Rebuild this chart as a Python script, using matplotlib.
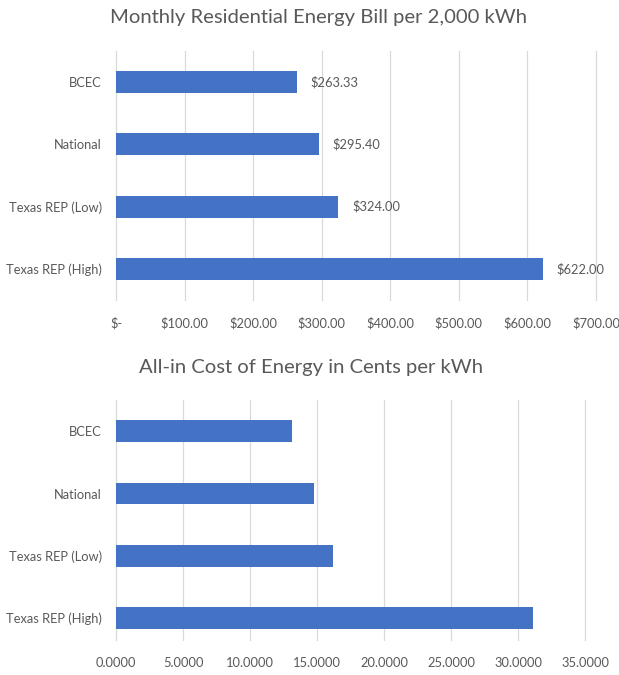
import matplotlib.pyplot as plt
import numpy as np
from matplotlib.ticker import FuncFormatter

categories = ["BCEC", "National", "Texas REP (Low)", "Texas REP (High)"]
monthly_bill = [263.33, 295.40, 324.00, 622.00]
cents_per_kwh = [13.1665, 14.77, 16.20, 31.10]

bill_ticks = [0, 100, 200, 300, 400, 500, 600, 700]
cents_ticks = [0, 5, 10, 15, 20, 25, 30, 35]

BLUE = "#4472C4"
TEXT = "#595959"
GRID = "#d9d9d9"
FONT = "Lato"

W, H = 619, 675
fig = plt.figure(figsize=(W / 100, H / 100), dpi=100)


def px_axes(left, top, right, bottom):
    return fig.add_axes([left / W, 1 - bottom / H, (right - left) / W, (bottom - top) / H])


def style(ax, ticks, fmt):
    y = np.arange(len(categories))
    ax.set_yticks(y)
    ax.set_yticklabels(categories)
    ax.set_xticks(ticks)
    ax.xaxis.set_major_formatter(FuncFormatter(fmt))
    ax.set_xlim(ticks[0], ticks[-1])
    ax.grid(axis="x", color=GRID, lw=0.9)
    for gl in ax.get_xgridlines():
        gl.set_clip_on(False)
    ax.set_axisbelow(True)
    for s in ax.spines.values():
        s.set_visible(False)
    ax.tick_params(length=0, colors=TEXT, labelsize=9.3)
    ax.tick_params(axis="x", pad=12)
    ax.tick_params(axis="y", pad=10)
    for lbl in ax.get_xticklabels() + ax.get_yticklabels():
        lbl.set_fontfamily(FONT)


def money(v, _):
    return "$-" if v == 0 else f"${v:,.2f}"


# top chart
ax1 = px_axes(116, 51, 596, 300)
ax1.barh(np.arange(len(categories)), monthly_bill, height=0.35, color=BLUE)
ax1.set_ylim(3.5, -0.5)
style(ax1, bill_ticks, money)
for i, v in enumerate(monthly_bill):
    ax1.annotate(f"${v:,.2f}", (v, i), xytext=(10, 0), textcoords="offset points",
                 va="center", ha="left", color=TEXT, fontsize=9.3, family=FONT)
fig.text(318 / W, 1 - 18 / H, "Monthly Residential Energy Bill per 2,000 kWh",
         ha="center", va="center", fontsize=14.6, color=TEXT, family=FONT)

# bottom chart
ax2 = px_axes(116, 400, 585, 640)
ax2.barh(np.arange(len(categories)), cents_per_kwh, height=0.35, color=BLUE)
ax2.set_ylim(3.35, -0.5)
style(ax2, cents_ticks, lambda v, _: f"{v:.4f}")
fig.text(311 / W, 1 - 367 / H, "All-in Cost of Energy in Cents per kWh",
         ha="center", va="center", fontsize=14.6, color=TEXT, family=FONT)

fig.savefig("out.png", dpi=100, facecolor="white")
